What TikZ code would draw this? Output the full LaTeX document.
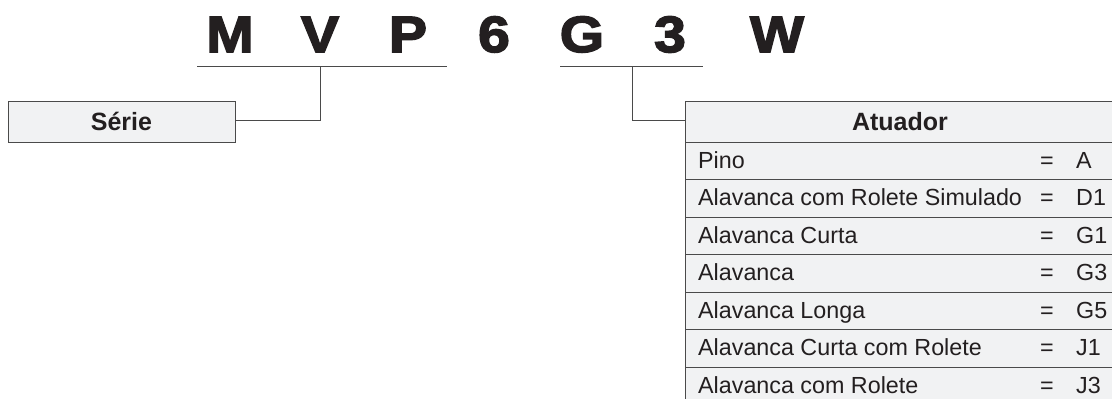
\documentclass[tikz,border=0pt]{standalone}
\usepackage{fontspec}
\setmainfont{Liberation Sans}
\newfontfamily\bigfont{Liberation Sans Bold}[FakeBold=3,FakeStretch=1.12]
\definecolor{boxfill}{HTML}{F1F2F3}
\definecolor{linec}{HTML}{4A4A4A}
\definecolor{txt}{HTML}{231F20}
\begin{document}
\begin{tikzpicture}[x=1pt,y=-1pt,
  big/.style={font=\bigfont\fontsize{51}{51}\selectfont, text=txt, anchor=base, inner sep=0pt},
  conn/.style={draw=linec, line width=0.9pt},
  cell/.style={draw=linec, fill=boxfill, line width=0.9pt},
  rowtxt/.style={font=\fontsize{23.3}{23.3}\selectfont, text=txt, anchor=base west, inner sep=0pt},
  hdr/.style={font=\bfseries\fontsize{25}{25}\selectfont, text=txt, inner sep=0pt}]
\useasboundingbox (0,0) rectangle (1112,399);
% code letters
\node[big] (M) at (230,52) {M};
\node[big] (V) at (320,52) {V};
\node[big] (P) at (408,52) {P};
\node[big] (six) at (494,52) {6};
\node[big] (G) at (582,52) {G};
\node[big] (three) at (670,52) {3};
\node[big] (W) at (777,52) {W};
% underlines
\coordinate (u1a) at (197,66);
\coordinate (u1b) at (447,66);
\coordinate (u1m) at (320,66);
\coordinate (u2a) at (560,66);
\coordinate (u2b) at (703,66);
\coordinate (u2m) at (632,66);
\draw[conn] (u1a) -- (u1b);
\draw[conn] (u2a) -- (u2b);
% Serie box
\path[cell] (8,101) rectangle (235,142);
\node[hdr] (serie) at (121.5,121.5) {Série};
\coordinate (serieE) at (235,120);
\draw[conn] (u1m) |- (serieE);
% Atuador table
\path[cell] (685,101) rectangle (1114,142);
\node[hdr] (atuador) at (900,121.5) {Atuador};
\coordinate (atW) at (685,120);
\draw[conn] (u2m) |- (atW);
\foreach \i/\lab/\val in {0/Pino/A,1/Alavanca com Rolete Simulado/D1,2/Alavanca Curta/G1,3/Alavanca/G3,4/Alavanca Longa/G5,5/Alavanca Curta com Rolete/J1,6/Alavanca com Rolete/J3}{
  \pgfmathsetmacro{\top}{142+37.5*\i}
  \path[cell] (685,\top) rectangle (1114,\top+37.5);
  \node[rowtxt] (lab\i) at (698,\top+26) {\lab};
  \node[rowtxt, anchor=base] (eq\i) at (1047,\top+26) {=};
  \node[rowtxt] (val\i) at (1076,\top+26) {\val};
}
\end{tikzpicture}
\end{document}
